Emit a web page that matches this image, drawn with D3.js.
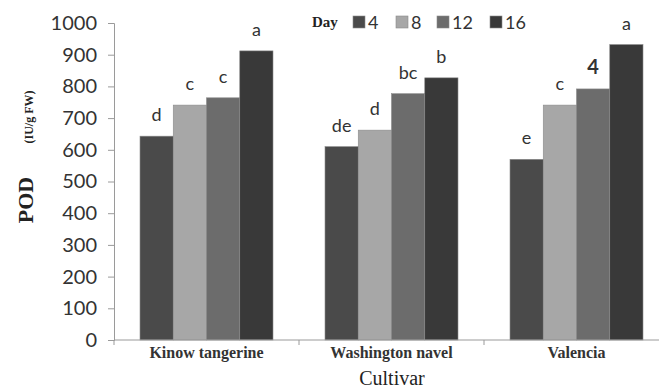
<!DOCTYPE html>
<html><head><meta charset="utf-8">
<script src="https://cdn.jsdelivr.net/npm/d3@7"></script>
<style>body{margin:0;background:#fff}</style>
</head><body>
<svg id="c" width="659" height="389"></svg>
<script>
const cultivars = ["Kinow tangerine", "Washington navel", "Valencia"];
const days = ["4", "8", "12", "16"];
const day4 = [643, 610, 570];
const day8 = [741, 662, 741];
const day12 = [764, 777, 792];
const day16 = [912, 827, 932];
const letters4 = ["d", "de", "e"];
const letters8 = ["c", "d", "c"];
const letters12 = ["c", "bc", "4"];
const letters16 = ["a", "b", "a"];
const yTicks = [0,100,200,300,400,500,600,700,800,900,1000];
const colors = ["#4a4a4a", "#a7a7a7", "#6c6c6c", "#393939"];

const series = [day4, day8, day12, day16];
const lets = [letters4, letters8, letters12, letters16];

const svg = d3.select("#c");
const x0 = d3.scaleBand().domain(cultivars).range([114, 669]).padding(0);
const x1 = d3.scaleBand().domain(days).range([26, 159]).padding(0);
const y = d3.scaleLinear().domain([0, 1000]).range([340, 23]);

// y axis
const ya = svg.append("g").attr("transform", "translate(114,0)")
  .call(d3.axisLeft(y).tickValues(yTicks).tickFormat(d3.format("d")).tickSize(6).tickPadding(11));
ya.select(".domain").attr("stroke", "#9a9a9a");
ya.selectAll(".tick line").attr("stroke", "#9a9a9a");
ya.selectAll(".tick text").attr("font-family", "Lato, 'Open Sans', sans-serif")
  .attr("font-size", 20).attr("fill", "#333");

// bars
const rows = [];
cultivars.forEach((c, i) => days.forEach((d, j) => rows.push({c, d, j, v: series[j][i], l: lets[j][i]})));
svg.append("g").selectAll("rect").data(rows).join("rect")
  .attr("x", r => x0(r.c) + x1(r.d))
  .attr("y", r => y(r.v))
  .attr("width", x1.bandwidth())
  .attr("height", r => y(0) - y(r.v))
  .attr("fill", r => colors[r.j])
  .attr("stroke", "#8a8a8a").attr("stroke-width", 0.6);

svg.append("g").selectAll("text").data(rows).join("text")
  .attr("x", r => x0(r.c) + x1(r.d) + x1.bandwidth() / 2)
  .attr("y", r => y(r.v) - 15)
  .attr("text-anchor", "middle")
  .attr("font-family", "Lato, 'Open Sans', sans-serif")
  .attr("font-size", r => r.l === "4" ? 20 : 18)
  .attr("font-weight", r => r.l === "4" ? "bold" : "normal")
  .attr("fill", "#333")
  .text(r => r.l);

// x axis
const xa = svg.append("g").attr("transform", "translate(0,340)");
xa.append("line").attr("x1", 114).attr("x2", 659).attr("stroke", "#9a9a9a");
xa.selectAll("line.t").data(cultivars.slice(1)).join("line").attr("class", "t")
  .attr("x1", c => x0(c)).attr("x2", c => x0(c)).attr("y1", 0).attr("y2", 5).attr("stroke", "#9a9a9a");
xa.append("line").attr("x1", 114).attr("x2", 114).attr("y1", 0).attr("y2", 5).attr("stroke", "#9a9a9a");
xa.selectAll("text").data(cultivars).join("text")
  .attr("x", c => x0(c) + 92.5).attr("y", 18)
  .attr("text-anchor", "middle")
  .attr("font-family", "'Liberation Serif', 'DejaVu Serif', serif")
  .attr("font-size", 16).attr("font-weight", "bold").attr("fill", "#333")
  .text(c => c);

svg.append("text").attr("x", 392).attr("y", 385).attr("text-anchor", "middle")
  .attr("font-family", "'Liberation Serif', serif").attr("font-size", 20).attr("fill", "#222")
  .text("Cultivar");

// y label
svg.append("text").attr("transform", "translate(33,200) rotate(-90)")
  .attr("text-anchor", "middle").attr("font-family", "'Liberation Serif', serif").attr("fill", "#222")
  .attr("font-size", 22).attr("font-weight", "bold").text("POD");
svg.append("text").attr("transform", "translate(33,117) rotate(-90)")
  .attr("text-anchor", "middle").attr("font-family", "'Liberation Serif', serif").attr("fill", "#222")
  .attr("font-size", 12).attr("font-weight", "bold").text("(IU/g FW)");

// legend
const lg = svg.append("g");
lg.append("text").attr("x", 312).attr("y", 27).attr("font-family", "'Liberation Serif', serif")
  .attr("font-size", 15).attr("font-weight", "bold").attr("fill", "#222").text("Day");
const lx = [353, 396, 437, 490];
days.forEach((d, j) => {
  lg.append("rect").attr("x", lx[j]).attr("y", 16).attr("width", 12).attr("height", 12)
    .attr("fill", colors[j]).attr("stroke", "#8a8a8a").attr("stroke-width", 0.6);
  lg.append("text").attr("x", lx[j] + 15).attr("y", 28.5).attr("font-family", "Lato, 'Open Sans', sans-serif")
    .attr("font-size", 18).attr("fill", "#333").text(d);
});
</script>
</body></html>
